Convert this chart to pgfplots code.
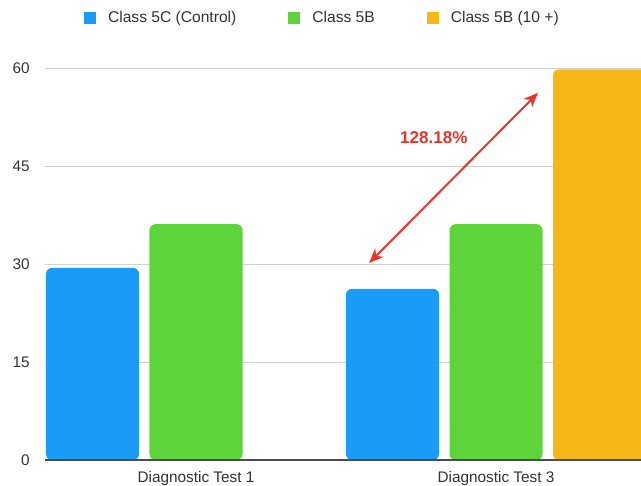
\documentclass[border=0pt]{standalone}
\usepackage{fontspec}
\setmainfont{Liberation Sans}
\usepackage{pgfplots}
\pgfplotsset{compat=1.18}
\usetikzlibrary{arrows.meta}

\definecolor{cblue}{HTML}{1A9BF8}
\definecolor{cgreen}{HTML}{5DD53A}
\definecolor{cyellow}{HTML}{F6B817}
\definecolor{cred}{HTML}{E8352A}
\definecolor{clabel}{HTML}{333333}

\begin{document}
\begin{tikzpicture}
\begin{axis}[
  at={(0,0)}, anchor=south west,
  scale only axis,
  width=447pt, height=294pt,
  xmin=-0.5033, xmax=1.4833,
  ymin=0, ymax=60,
  ybar, bar width=0.31,
  xtick={0,1},
  xticklabels={Diagnostic Test 1, Diagnostic Test 3},
  ytick={0,15,30,45,60},
  axis x line*=bottom, axis y line*=left,
  y axis line style={draw=none},
  x axis line style={draw=black!70, line width=1.1pt, -},
  tick style={draw=none},
  ymajorgrids=true,
  grid style={draw=black!18, line width=0.7pt},
  tick label style={font=\fontsize{11.5}{13}\selectfont, text=clabel},
  /pgf/number format/assume math mode=true,
  yticklabel style={xshift=-8pt},
  xticklabel style={yshift=-1pt},
  clip=false,
  legend columns=3,
  legend style={draw=none, fill=none, at={(0.466,1.128)}, anchor=center,
    font=\fontsize{11.7}{13}\selectfont, text=clabel,
    /tikz/every odd column/.append style={column sep=7pt},
    /tikz/every even column/.append style={column sep=37pt}},
  legend image code/.code={\fill[#1, rounded corners=0pt] (0pt,-4.5pt) rectangle (9pt,4.5pt);},
  every axis plot/.append style={draw=none, rounded corners=4.5pt},
]
\addplot[fill=cblue, bar shift=-0.345] coordinates {(0,29.4) (1,26.2)};
\addlegendentry{Class 5C (Control)}
\addplot[fill=cgreen, bar shift=0] coordinates {(0,36.1) (1,36.1)};
\addlegendentry{Class 5B}
\addplot[fill=cyellow, bar shift=0.345] coordinates {(1,59.8)};
\addlegendentry{Class 5B (10 +)}

\draw[black!70, line width=1.1pt] (rel axis cs:0,0) -- (rel axis cs:1,0);
\draw[cred, line width=1.5pt, {Stealth[length=11pt,width=9pt]}-{Stealth[length=11pt,width=9pt]}]
  (axis cs:0.577,30.15) -- (axis cs:1.14,56.2);
\node[text=cred, font=\bfseries\fontsize{12.8}{14}\selectfont] at (axis cs:0.793,49.4) {128.18\%};
\end{axis}
\pgfresetboundingbox
\path[use as bounding box] (-33.75pt,-18.75pt) rectangle (447pt,345pt);
\end{tikzpicture}
\end{document}
